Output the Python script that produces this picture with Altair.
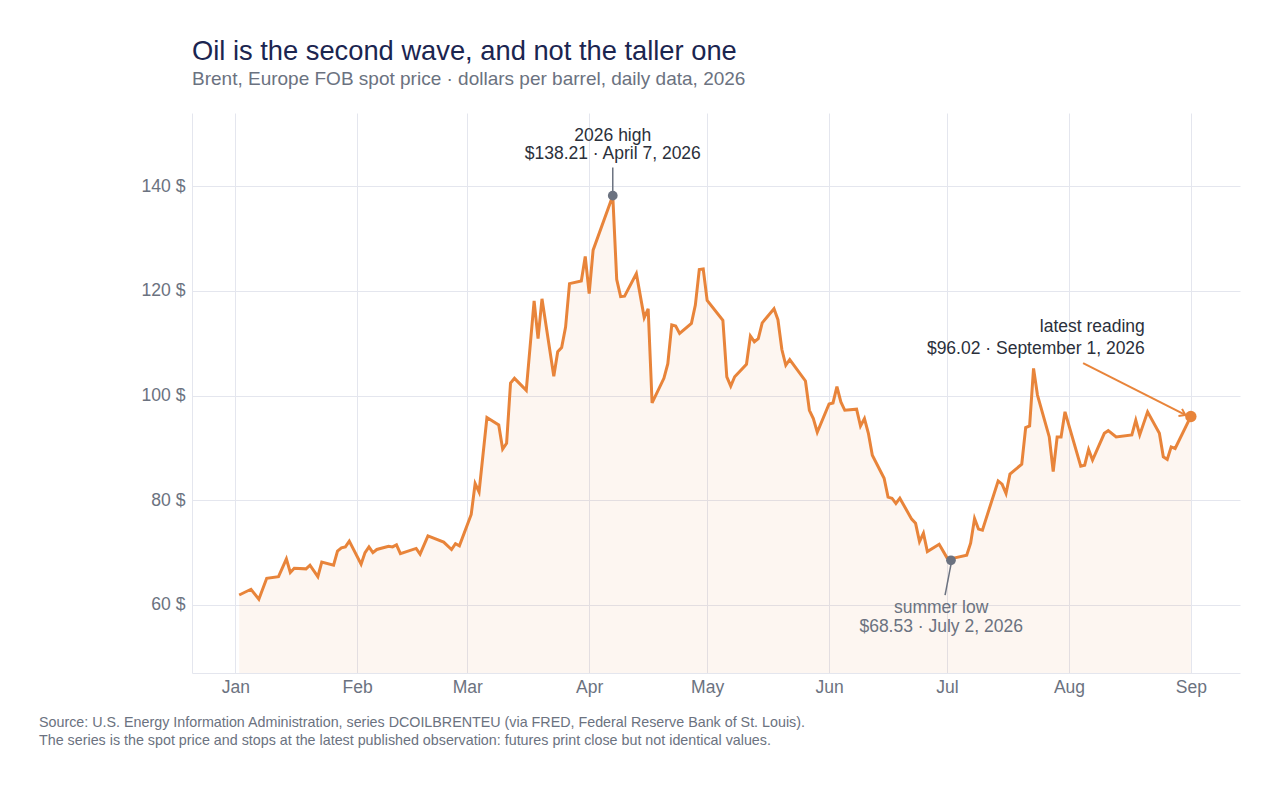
import altair as alt
import pandas as pd

# ---- data -------------------------------------------------------------
dates = [
    "2026-01-02", "2026-01-05", "2026-01-07", "2026-01-09", "2026-01-12", "2026-01-14",
    "2026-01-15", "2026-01-16", "2026-01-19", "2026-01-20", "2026-01-22", "2026-01-23",
    "2026-01-26", "2026-01-27", "2026-01-28", "2026-01-29", "2026-01-30",
    "2026-02-02", "2026-02-03", "2026-02-04", "2026-02-05", "2026-02-06", "2026-02-09",
    "2026-02-10", "2026-02-11", "2026-02-12", "2026-02-16", "2026-02-17", "2026-02-19",
    "2026-02-23", "2026-02-25", "2026-02-26", "2026-02-27",
    "2026-03-02", "2026-03-03", "2026-03-04", "2026-03-06", "2026-03-09", "2026-03-10",
    "2026-03-11", "2026-03-12", "2026-03-13", "2026-03-16", "2026-03-18", "2026-03-19",
    "2026-03-20", "2026-03-23", "2026-03-24", "2026-03-25", "2026-03-26", "2026-03-27",
    "2026-03-30", "2026-03-31",
    "2026-04-01", "2026-04-02", "2026-04-07", "2026-04-08", "2026-04-09", "2026-04-10",
    "2026-04-13", "2026-04-15", "2026-04-16", "2026-04-17", "2026-04-20", "2026-04-21",
    "2026-04-22", "2026-04-23", "2026-04-24", "2026-04-27", "2026-04-28", "2026-04-29",
    "2026-04-30",
    "2026-05-01", "2026-05-05", "2026-05-06", "2026-05-07", "2026-05-08", "2026-05-11",
    "2026-05-12", "2026-05-13", "2026-05-14", "2026-05-15", "2026-05-18", "2026-05-19",
    "2026-05-20", "2026-05-21", "2026-05-22", "2026-05-26", "2026-05-27", "2026-05-28",
    "2026-05-29",
    "2026-06-01", "2026-06-02", "2026-06-03", "2026-06-04", "2026-06-05", "2026-06-08",
    "2026-06-09", "2026-06-10", "2026-06-11", "2026-06-12", "2026-06-15", "2026-06-16",
    "2026-06-17", "2026-06-18", "2026-06-19", "2026-06-22", "2026-06-23", "2026-06-24",
    "2026-06-25", "2026-06-26", "2026-06-29",
    "2026-07-01", "2026-07-02", "2026-07-03", "2026-07-06", "2026-07-07", "2026-07-08",
    "2026-07-09", "2026-07-10", "2026-07-14", "2026-07-15", "2026-07-16", "2026-07-17",
    "2026-07-20", "2026-07-21", "2026-07-22", "2026-07-23", "2026-07-24", "2026-07-27",
    "2026-07-28", "2026-07-29", "2026-07-30", "2026-07-31",
    "2026-08-04", "2026-08-05", "2026-08-06", "2026-08-07", "2026-08-10", "2026-08-11",
    "2026-08-13", "2026-08-17", "2026-08-18", "2026-08-19", "2026-08-21", "2026-08-24",
    "2026-08-25", "2026-08-26", "2026-08-27", "2026-08-28",
    "2026-09-01",
]
prices = [
    61.9, 63.0, 61.1, 65.1, 65.4, 68.8,
    66.2, 67.0, 66.9, 67.6, 65.4, 68.2,
    67.6, 70.3, 70.9, 71.1, 72.2,
    67.8, 70.0, 71.1, 70.0, 70.6, 71.2,
    71.1, 71.5, 69.8, 70.8, 69.7, 73.2,
    72.0, 70.6, 71.7, 71.3,
    77.3, 83.2, 81.6, 95.8, 94.4, 89.8,
    90.9, 102.4, 103.3, 101.0, 118.1, 110.9,
    118.5, 103.7, 108.4, 109.2, 113.1, 121.4,
    121.9, 126.6,
    119.5, 127.8, 138.21, 122.2, 118.9, 119.0,
    123.3, 114.9, 116.6, 98.6, 103.3, 106.1,
    113.5, 113.3, 111.9, 113.8, 117.3, 124.1,
    124.2,
    118.2, 114.4, 103.6, 101.8, 103.6, 106.0,
    111.4, 110.3, 110.9, 113.9, 116.6, 114.5,
    108.8, 105.8, 106.9, 102.8, 97.2, 95.6,
    93.0,
    98.4, 98.6, 101.7, 98.8, 97.2, 97.4,
    94.2, 95.6, 92.8, 88.6, 84.2, 80.6,
    80.4, 79.4, 80.4, 76.4, 75.6, 72.1,
    73.7, 70.2, 71.6,
    69.0, 68.53, 69.0, 69.5, 71.8, 76.5,
    74.5, 74.3, 83.7, 83.1, 81.3, 85.0,
    86.9, 93.9, 94.2, 105.2, 100.1, 92.1,
    85.5, 92.1, 92.1, 96.9,
    86.5, 86.7, 89.7, 87.7, 92.8, 93.3,
    92.1, 92.5, 95.3, 92.5, 96.9, 92.8,
    88.3, 87.8, 90.2, 89.9,
    96.02,
]

month_ticks = [1, 2, 3, 4, 5, 6, 7, 8, 9]
y_ticks = [60, 80, 100, 120, 140]
y_domain = [47, 154]

high_date, high_value = "2026-04-07", 138.21
low_date, low_value = "2026-07-02", 68.53
last_date, last_value = "2026-09-01", 96.02

title_text = "Oil is the second wave, and not the taller one"
subtitle_text = "Brent, Europe FOB spot price · dollars per barrel, daily data, 2026"
footer_lines = [
    "Source: U.S. Energy Information Administration, series DCOILBRENTEU (via FRED, Federal Reserve Bank of St. Louis).",
    "The series is the spot price and stops at the latest published observation: futures print close but not identical values.",
]

# ---- styling ----------------------------------------------------------
FONT = "Liberation Sans"
ORANGE = "#e8843a"
GRAY = "#6b7280"
DARK = "#2b303b"
GRID = "#e4e6ee"
W, H = 1048, 560
ANN_SIZE = 17.5

df = pd.DataFrame({"date": pd.to_datetime(dates), "price": prices})
df["base"] = y_domain[0]


def d(s, shift_days=0.0):
    return pd.Timestamp(s) + pd.Timedelta(days=shift_days)


x_scale = alt.Scale(
    type="utc",
    domain=[alt.DateTime(year=2025, month=12, date=21, utc=True),
            alt.DateTime(year=2026, month=9, date=13, hours=12, utc=True)],
)
y_scale = alt.Scale(domain=y_domain, nice=False, zero=False)

x_axis = alt.Axis(
    values=[alt.DateTime(year=2026, month=m, date=1, utc=True) for m in month_ticks],
    format="%b", title=None, grid=True, gridColor=GRID, ticks=False,
    domainColor=GRID, labelColor=GRAY, labelFontSize=17.5, labelFont=FONT,
    labelPadding=5,
)
y_axis = alt.Axis(
    values=y_ticks, title=None, grid=True, gridColor=GRID, ticks=False,
    domainColor=GRID, labelColor=GRAY, labelFontSize=17.6, labelFont=FONT,
    labelPadding=7, labelExpr="datum.value + ' $'",
)

X = alt.X("date:T", scale=x_scale, axis=x_axis)
Y = alt.Y("price:Q", scale=y_scale, axis=y_axis)

base = alt.Chart(df)
area = base.mark_area(color=ORANGE, opacity=0.07).encode(
    x=X, y=Y, y2="base:Q")
line = base.mark_line(color=ORANGE, strokeWidth=3, strokeJoin="miter").encode(x=X, y=Y)

xs = alt.X("x:T", scale=x_scale)
ys = alt.Y("y:Q", scale=y_scale)

# leader lines
leaders_df = pd.DataFrame([
    {"x": d(high_date), "x2": d(high_date), "y": high_value, "y2": 143.6},
    {"x": d(low_date, 0.2), "x2": d(low_date, -1.5), "y": low_value, "y2": 61.9},
])
leaders = alt.Chart(leaders_df).mark_rule(color=GRAY, strokeWidth=1.5).encode(
    x=xs, x2="x2:T", y=ys, y2="y2:Q")

# arrow to latest reading
arrow_df = pd.DataFrame([{"x": d(last_date, -27.4), "x2": d(last_date, -1.4),
                          "y": 106.2, "y2": 96.3}])
arrow_line = alt.Chart(arrow_df).mark_rule(color=ORANGE, strokeWidth=2).encode(
    x=xs, x2="x2:T", y=ys, y2="y2:Q")
arrow_head = alt.Chart(pd.DataFrame([{"x": d(last_date, -1.4), "y": 96.3}])).mark_point(
    shape="M-1,-0.7L0,0L-1,0.7", filled=False, color=ORANGE, strokeWidth=2,
    size=130, angle=26.8, opacity=1,
).encode(x=xs, y=ys)

# dots
dots_df = pd.DataFrame([
    {"x": d(high_date), "y": high_value},
    {"x": d(low_date), "y": low_value},
])
dots = alt.Chart(dots_df).mark_point(filled=True, size=95, color=GRAY, opacity=1).encode(
    x=xs, y=ys)
last_dot = alt.Chart(pd.DataFrame([{"x": d(last_date), "y": last_value}])).mark_point(
    filled=True, size=130, color=ORANGE, opacity=1).encode(x=xs, y=ys)

# annotation text
texts_df = pd.DataFrame([
    {"x": d(high_date), "y": 149.7, "t": "2026 high", "align": "center", "c": DARK},
    {"x": d(high_date), "y": 146.1, "t": "$138.21 · April 7, 2026", "align": "center", "c": DARK},
    {"x": d(low_date, -2.5), "y": 59.4, "t": "summer low", "align": "center", "c": GRAY},
    {"x": d(low_date, -2.5), "y": 55.8, "t": "$68.53 · July 2, 2026", "align": "center", "c": GRAY},
    {"x": d(last_date, -11.7), "y": 113.1, "t": "latest reading", "align": "right", "c": DARK},
    {"x": d(last_date, -11.7), "y": 108.9, "t": "$96.02 · September 1, 2026", "align": "right", "c": DARK},
])
text_center = alt.Chart(texts_df[texts_df["align"] == "center"]).mark_text(
    font=FONT, fontSize=ANN_SIZE, align="center", baseline="middle").encode(
    x=xs, y=ys, text="t:N", color=alt.Color("c:N", scale=None))
text_right = alt.Chart(texts_df[texts_df["align"] == "right"]).mark_text(
    font=FONT, fontSize=ANN_SIZE, align="right", baseline="middle").encode(
    x=xs, y=ys, text="t:N", color=alt.Color("c:N", scale=None))

# footer (source notes) placed below the plot
footer = alt.Chart(pd.DataFrame({"t": ["\n".join(footer_lines)]})).mark_text(
    font=FONT, fontSize=14.3, align="left", baseline="middle", color=GRAY,
    lineBreak="\n", lineHeight=18,
).encode(
    text="t:N",
    x=alt.value(-153),
    y=alt.value(H + 49.5),
)

chart = alt.layer(
    area, line, leaders, arrow_line, arrow_head, dots, last_dot,
    text_center, text_right, footer,
).properties(
    width=W, height=H, background="white",
    title=alt.TitleParams(
        text=title_text, subtitle=subtitle_text, anchor="start", frame="group",
        font=FONT, fontSize=27.3, fontWeight="normal", color="#1b2550",
        subtitleFont=FONT, subtitleFontSize=19, subtitleColor=GRAY,
        subtitlePadding=5, offset=24,
    ),
    autosize=alt.AutoSizeParams(type="none"),
    padding={"left": 184, "top": 105, "right": 30, "bottom": 90},
).configure_view(stroke=None)

chart.save("out.html", embed_options={"renderer": "svg", "actions": False})
